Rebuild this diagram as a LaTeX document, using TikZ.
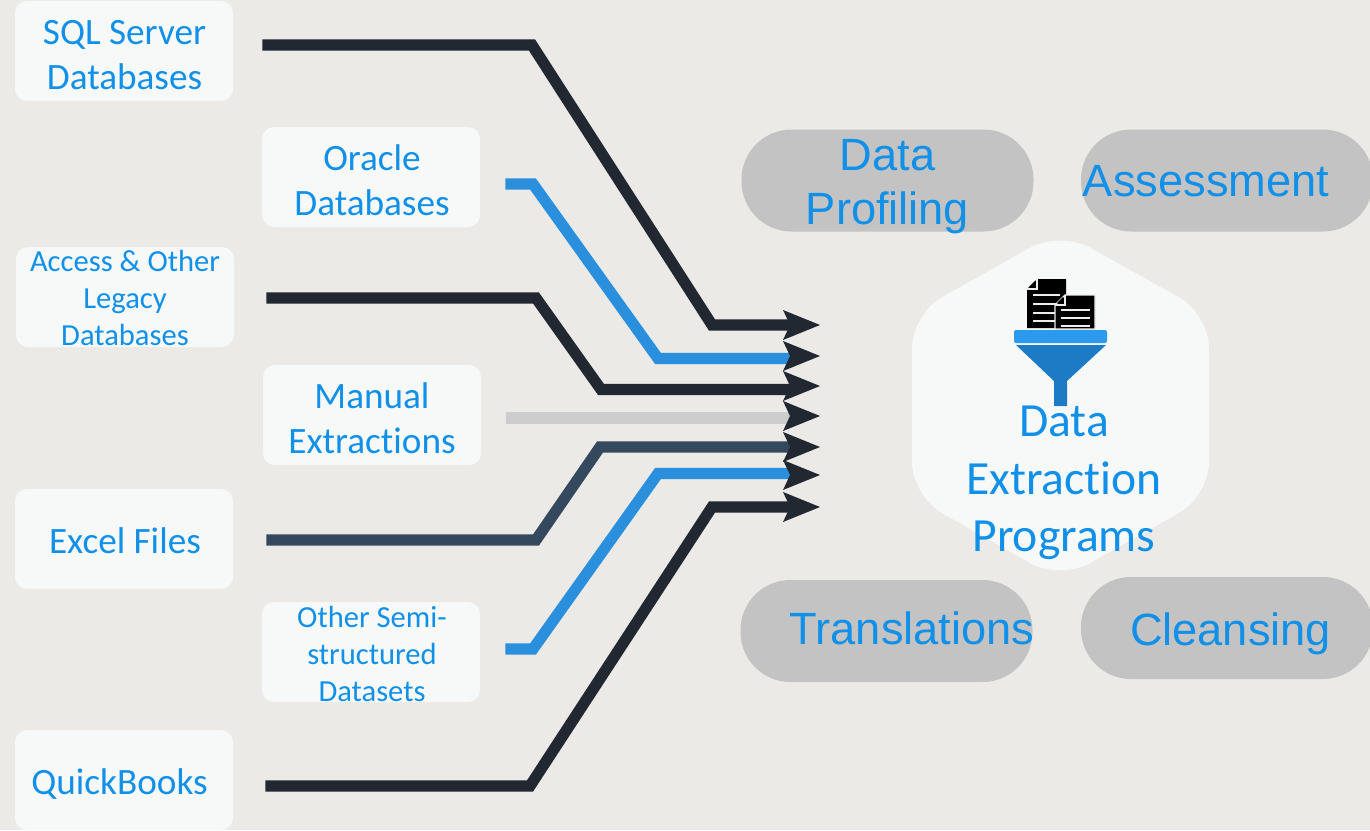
\documentclass[tikz,border=0pt]{standalone}
\usepackage{fontspec}
\setmainfont[Ligatures=NoCommon]{Carlito}
\newfontfamily\pillfont{Liberation Sans}
\usepackage{xcolor}
\definecolor{paper}{HTML}{ECEAE6}
\definecolor{boxfill}{HTML}{F7F9F9}
\definecolor{pillgrey}{HTML}{C3C3C3}
\definecolor{textblue}{HTML}{1090E8}
\definecolor{wiredark}{HTML}{212831}
\definecolor{wireblue}{HTML}{2A8FDC}
\definecolor{wiregrey}{HTML}{CDCDCD}
\definecolor{wireslate}{HTML}{34495E}
\definecolor{funneltop}{HTML}{2C9AEC}
\definecolor{funnelbody}{HTML}{1C7BC4}
\definecolor{docline}{HTML}{EDEDED}
\tikzset{
  source/.style = {fill=boxfill, rounded corners=6pt, minimum width=109pt, minimum height=50pt, inner sep=0pt},
  sourcetext/.style = {align=center, text=textblue, inner sep=0pt, font=\fontsize{18.6}{22.5}\selectfont},
  small/.style  = {font=\fontsize{15.3}{18.3}\selectfont},
  pill/.style   = {fill=pillgrey, rounded corners=25pt, minimum width=146pt, minimum height=51pt},
  pilltext/.style = {align=center, text=textblue, inner sep=0pt, font=\pillfont\fontsize{22.6}{27}\selectfont},
  wire/.style   = {line width=5.6pt, line join=miter},
}

\begin{document}
\begin{tikzpicture}[x=0.5pt, y=-0.5pt]
    \useasboundingbox (0, 0) rectangle (1370, 830);
    \fill [paper] (0, 0) rectangle (1370, 830);

    % sources
    \node [source] (sql)    at (124,  51) {};
    \node [source] (oracle) at (371, 177) {};
    \node [source] (access) at (125, 297) {};
    \node [source] (manual) at (372, 415) {};
    \node [source] (excel)  at (124, 539) {};
    \node [source] (other)  at (371, 652) {};
    \node [source] (quick)  at (124, 780) {};

    \node [sourcetext] (sqltext)    at (124.5,  55) {SQL Server\\Databases};
    \node [sourcetext] (oracletext) at (372, 180.5) {Oracle\\Databases};
    \node [sourcetext, small] (accesstext) at (125, 298) {Access \& Other\\Legacy\\Databases};
    \node [sourcetext] (manualtext) at (372, 418.5) {Manual\\Extractions};
    \node [sourcetext] (exceltext)  at (125, 541) {Excel Files};
    \node [sourcetext, small] (othertext) at (372, 654) {Other Semi-\\structured\\Datasets};
    \node [sourcetext] (quicktext)  at (119.5, 784.5) {QuickBooks};

    % wire ends
    \coordinate (e1) at (790, 325);
    \coordinate (e2) at (790, 358.5);
    \coordinate (e3) at (790, 389.5);
    \coordinate (e4) at (790, 418);
    \coordinate (e5) at (790, 447);
    \coordinate (e6) at (790, 473.5);
    \coordinate (e7) at (790, 507);

    \draw [wire, wiredark]  ([shift={(29, -6)}]sql.east)    -- (532,  45) -- (712, 325) -- (e1);
    \draw [wire, wireblue]  ([shift={(25,  7)}]oracle.east) -- (533, 184) -- (658, 358.5) -- (e2);
    \draw [wire, wiredark]  ([shift={(32,  1)}]access.east) -- (536, 298) -- (601, 389.5) -- (e3);
    \draw [wire, wiregrey]  ([shift={(25,  3)}]manual.east) -- (e4);
    \draw [wire, wireslate] ([shift={(33,  1)}]excel.east)  -- (536, 540) -- (600, 447) -- (e5);
    \draw [wire, wireblue]  ([shift={(25, -3)}]other.east)  -- (533, 649) -- (658, 473.5) -- (e6);
    \draw [wire, wiredark]  ([shift={(32,  6)}]quick.east)  -- (530, 786) -- (712, 507) -- (e7);

    % arrow heads
    \foreach \y in {325, 356, 386, 416, 447, 475, 507} {
        \fill [wiredark] (820, \y) -- (783, \y-15) -- (790, \y) -- (783, \y+15) -- cycle;
    }

    % centre
    \fill [boxfill, rounded corners=17pt] (1060, 231) -- (1209, 314) -- (1209, 496) -- (1060, 580)
        -- (912, 496) -- (912, 314) -- cycle;

    % documents
    \fill [black] (1037, 279) -- (1066, 279) -- (1066, 328) -- (1027, 328) -- (1027, 289) -- cycle;
    \draw [docline, line width=0.6pt] (1027, 289) -- (1037, 289) -- (1037, 279);
    \fill [black] (1029, 287) -- (1035, 287) -- (1035, 281) -- cycle;
    \foreach \y in {295, 304, 313, 321} {
        \draw [docline, line width=1pt] (1033, \y) -- (1060, \y);
    }
    \fill [black, draw=docline, line width=0.6pt] (1065, 295) -- (1095, 295) -- (1095, 329) -- (1055, 329) -- (1055, 305) -- cycle;
    \draw [docline, line width=0.6pt] (1055, 305) -- (1065, 305) -- (1065, 295);
    \fill [black] (1057, 303) -- (1063, 303) -- (1063, 297) -- cycle;
    \foreach \y in {310, 318, 326} {
        \draw [docline, line width=1pt] (1061, \y) -- (1090, \y);
    }

    % funnel
    \fill [funneltop, rounded corners=1pt] (1014, 330) rectangle (1107, 343);
    \fill [funnelbody] (1016, 345) -- (1106, 345) -- (1067, 381) -- (1067, 406)
        -- (1054, 406) -- (1054, 381) -- cycle;

    \node [align=center, text=textblue, inner sep=0pt, font=\fontsize{23.8}{28.7}\selectfont] (extract)
        at (1064, 483) {Data\\Extraction\\Programs};

    % pills
    \node [pill] (profiling) at (887.5, 180.5) {};
    \node [pill] (assess)    at (1227, 180.5) {};
    \node [pill] (trans)     at (886.5, 631) {};
    \node [pill] (cleanse)   at (1227, 628) {};

    \node [pilltext] (profilingtext) at (887.5, 186.5) {Data\\Profiling};
    \node [pilltext] (assesstext)    at (1206, 181) {Assessment};
    \node [pilltext] (transtext)     at (912, 628.5) {Translations};
    \node [pilltext] (cleansetext)   at (1230.5, 634) {Cleansing};
\end{tikzpicture}
\end{document}
